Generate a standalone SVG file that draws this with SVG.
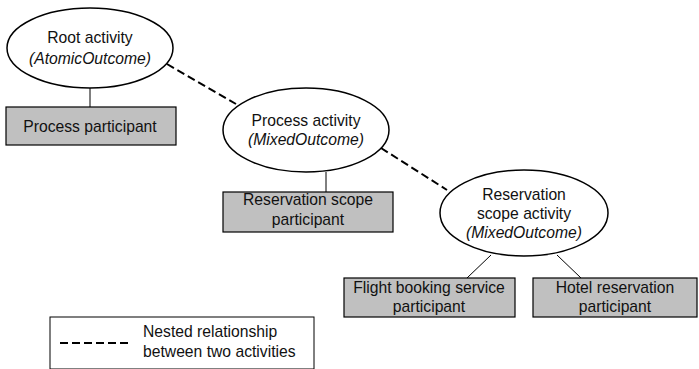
<svg xmlns="http://www.w3.org/2000/svg" width="699" height="369" viewBox="0 0 699 369">
  <style>
    .bg { fill: #ffffff; }
    .activity { fill: #ffffff; stroke: #000000; stroke-width: 1.5; }
    .participant { fill: #c0c0c0; stroke: #000000; stroke-width: 1.2; }
    .legend { fill: #ffffff; stroke: #000000; stroke-width: 1; }
    .link { stroke: #000000; stroke-width: 1; fill: none; }
    .nested { stroke: #000000; stroke-width: 2; stroke-dasharray: 8 4; fill: none; }
    text { font-family: "Liberation Sans", Arial, sans-serif; font-size: 15.7px; fill: #111111; text-anchor: middle; }
    .it { font-style: italic; }
    .left { text-anchor: start; }
  </style>
  <rect class="bg" x="0" y="0" width="699" height="369"/>

  <!-- connectors -->
  <g id="connectors">
    <line class="nested" x1="167" y1="64" x2="236" y2="104"/>
    <line class="nested" x1="381" y1="148" x2="447" y2="190"/>
    <line class="link" x1="90" y1="88" x2="90" y2="107"/>
    <line class="link" x1="326" y1="172" x2="326" y2="192"/>
    <line class="link" x1="491" y1="255" x2="467" y2="278"/>
    <line class="link" x1="557" y1="255" x2="581" y2="278"/>
  </g>

  <g id="root-activity">
    <ellipse class="activity" cx="90" cy="48" rx="83" ry="40"/>
    <text x="90" y="43">Root activity</text>
    <text class="it" x="90" y="64">(AtomicOutcome)</text>
  </g>

  <g id="process-participant">
    <rect class="participant" x="6" y="107" width="170" height="38"/>
    <text x="90" y="132">Process participant</text>
  </g>

  <g id="process-activity">
    <ellipse class="activity" cx="306" cy="130" rx="83" ry="42"/>
    <text x="306" y="126">Process activity</text>
    <text class="it" x="306" y="145">(MixedOutcome)</text>
  </g>

  <g id="reservation-scope-participant">
    <rect class="participant" x="223" y="192" width="170" height="40"/>
    <text x="308" y="205">Reservation scope</text>
    <text x="308" y="225">participant</text>
  </g>

  <g id="reservation-scope-activity">
    <ellipse class="activity" cx="524" cy="213" rx="84" ry="43"/>
    <text x="524" y="200">Reservation</text>
    <text x="524" y="219">scope activity</text>
    <text class="it" x="524" y="238">(MixedOutcome)</text>
  </g>

  <g id="flight-booking-participant">
    <rect class="participant" x="344" y="278" width="171" height="39"/>
    <text x="429" y="293">Flight booking service</text>
    <text x="429" y="312">participant</text>
  </g>

  <g id="hotel-reservation-participant">
    <rect class="participant" x="533" y="278" width="164" height="39"/>
    <text x="615" y="293">Hotel reservation</text>
    <text x="615" y="312">participant</text>
  </g>

  <g id="legend">
    <rect class="legend" x="50" y="317" width="264" height="52"/>
    <line class="nested" x1="60" y1="343" x2="128" y2="343" stroke-width="1.8"/>
    <text class="left" x="143" y="337">Nested relationship</text>
    <text class="left" x="143" y="357">between two activities</text>
  </g>
</svg>
